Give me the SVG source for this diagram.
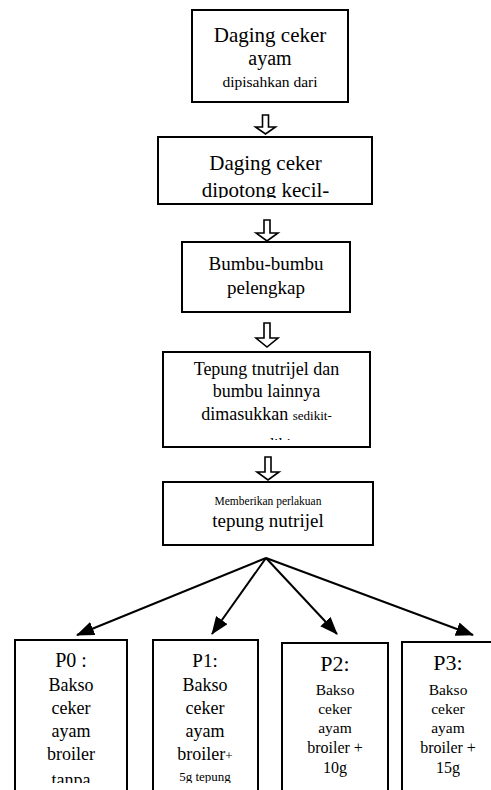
<svg xmlns="http://www.w3.org/2000/svg" width="491" height="790" viewBox="0 0 491 790">
<style>
.box{fill:#fff;stroke:#000;stroke-width:2}
.t{font-family:"Liberation Serif","Times New Roman",serif;fill:#000;text-anchor:middle}
.ha{fill:#fff;stroke:#000;stroke-width:1.6;stroke-linejoin:miter}
.fan{stroke:#000;stroke-width:2;fill:none}
</style>
<defs>
<marker id="ah" markerUnits="userSpaceOnUse" markerWidth="18" markerHeight="14" refX="17" refY="7" orient="auto">
<path d="M0,0 L18,7 L0,14 Z" fill="#000"/>
</marker>
<clipPath id="c2"><rect x="158" y="137" width="214" height="61"/></clipPath>
<clipPath id="c4"><rect x="163" y="352" width="207" height="88"/></clipPath>
<clipPath id="cb"><rect x="0" y="640" width="491" height="143"/></clipPath>
</defs>
<rect width="491" height="790" fill="#fff"/>

<g id="n1">
<rect class="box" x="192" y="10" width="156" height="92"/>
<text class="t" x="270" y="42" font-size="21">Daging ceker</text>
<text class="t" x="270" y="65" font-size="20">ayam</text>
<text class="t" x="270" y="87" font-size="15.5">dipisahkan dari</text>
</g>

<g id="n2">
<rect class="box" x="158" y="137" width="214" height="67"/>
<g clip-path="url(#c2)">
<text class="t" x="265.5" y="170" font-size="21">Daging ceker</text>
<text class="t" x="265.5" y="197" font-size="21">dipotong kecil-</text>
</g>
</g>

<g id="n3">
<rect class="box" x="182" y="242" width="168" height="70"/>
<text class="t" x="266" y="270" font-size="19">Bumbu-bumbu</text>
<text class="t" x="266" y="294" font-size="19">pelengkap</text>
</g>

<g id="n4">
<rect class="box" x="163" y="352" width="207" height="95"/>
<g clip-path="url(#c4)">
<text class="t" x="266.5" y="375" font-size="18">Tepung tnutrijel dan</text>
<text class="t" x="266.5" y="397" font-size="18">bumbu lainnya</text>
<text class="t" x="266.5" y="420" font-size="18">dimasukkan <tspan font-size="13">sedikit-</tspan></text>
<text class="t" x="274" y="450" font-size="16">sedikit</text>
</g>
</g>

<g id="n5">
<rect class="box" x="163" y="482" width="210" height="63"/>
<text class="t" x="268" y="505" font-size="11.5">Memberikan perlakuan</text>
<text class="t" x="268" y="527" font-size="19">tepung nutrijel</text>
</g>

<g id="p0">
<rect class="box" x="15" y="640" width="112" height="160"/>
<g clip-path="url(#cb)">
<text class="t" x="71" y="667" font-size="20">P0 :</text>
<text class="t" x="71" y="691" font-size="18">Bakso</text>
<text class="t" x="71" y="714" font-size="18">ceker</text>
<text class="t" x="71" y="737" font-size="18">ayam</text>
<text class="t" x="71" y="760" font-size="18">broiler</text>
<text class="t" x="71" y="786" font-size="18">tanpa</text>
</g>
</g>

<g id="p1">
<rect class="box" x="153" y="640" width="105" height="160"/>
<g clip-path="url(#cb)">
<text class="t" x="205" y="667" font-size="19">P1:</text>
<text class="t" x="205" y="691" font-size="18">Bakso</text>
<text class="t" x="205" y="714" font-size="18">ceker</text>
<text class="t" x="205" y="737" font-size="18">ayam</text>
<text class="t" x="205" y="760" font-size="18">broiler<tspan font-size="13">+</tspan></text>
<text class="t" x="205" y="781" font-size="13">5g tepung</text>
</g>
</g>

<g id="p2">
<rect class="box" x="282" y="643" width="106" height="160"/>
<text class="t" x="335" y="671" font-size="22">P2:</text>
<text class="t" x="335" y="695" font-size="15.5">Bakso</text>
<text class="t" x="335" y="714" font-size="15.5">ceker</text>
<text class="t" x="335" y="733" font-size="15.5">ayam</text>
<text class="t" x="335" y="753" font-size="16">broiler +</text>
<text class="t" x="335" y="773" font-size="16">10g</text>
</g>

<g id="p3">
<rect class="box" x="402" y="642" width="92" height="160"/>
<text class="t" x="448" y="670" font-size="22">P3:</text>
<text class="t" x="448" y="695" font-size="15.5">Bakso</text>
<text class="t" x="448" y="714" font-size="15.5">ceker</text>
<text class="t" x="448" y="733" font-size="15.5">ayam</text>
<text class="t" x="448" y="753" font-size="16">broiler +</text>
<text class="t" x="448" y="773" font-size="16">15g</text>
</g>

<g id="connectors">
<path class="ha" d="M262.5,115 H268.5 V127 H275.5 L265.5,134 L255.5,127 H262.5 Z"/>
<path class="ha" d="M264,220 H270 V233 H278 L267,241 L256,233 H264 Z"/>
<path class="ha" d="M264,323 H270 V338 H278 L267,347 L256,338 H264 Z"/>
<path class="ha" d="M265,457 H271 V472 H279 L268,480 L257,472 H265 Z"/>
<line class="fan" x1="266" y1="558" x2="77" y2="635" marker-end="url(#ah)"/>
<line class="fan" x1="266" y1="558" x2="212" y2="634" marker-end="url(#ah)"/>
<line class="fan" x1="266" y1="558" x2="337" y2="634" marker-end="url(#ah)"/>
<line class="fan" x1="266" y1="558" x2="473" y2="635" marker-end="url(#ah)"/>
</g>
</svg>
